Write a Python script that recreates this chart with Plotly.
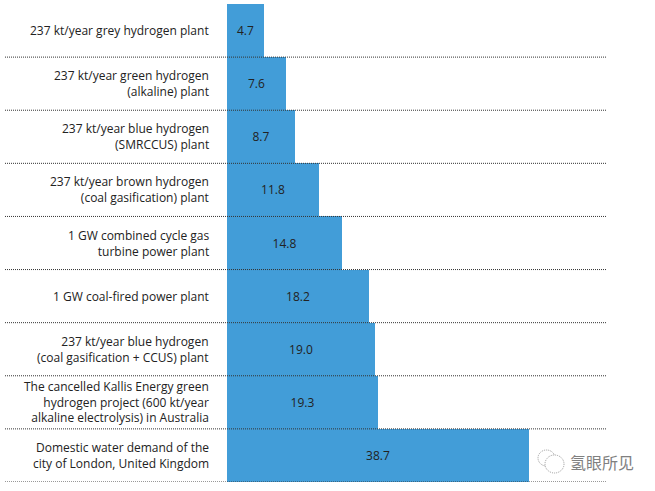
import plotly.graph_objects as go

categories = [
    "237 kt/year grey hydrogen plant",
    "237 kt/year green hydrogen<br>(alkaline) plant",
    "237 kt/year blue hydrogen<br>(SMRCCUS) plant",
    "237 kt/year brown hydrogen<br>(coal gasification) plant",
    "1 GW combined cycle gas<br>turbine power plant",
    "1 GW coal-fired power plant",
    "237 kt/year blue hydrogen<br>(coal gasification + CCUS) plant",
    "The cancelled Kallis Energy green<br>hydrogen project (600 kt/year<br>alkaline electrolysis) in Australia",
    "Domestic water demand of the<br>city of London, United Kingdom",
]
values = [4.7, 7.6, 8.7, 11.8, 14.8, 18.2, 19.0, 19.3, 38.7]
value_labels = ["4.7", "7.6", "8.7", "11.8", "14.8", "18.2", "19.0", "19.3", "38.7"]

W, H = 655, 491
left, right, top, bottom = 227, 607, 4, 482
pw, ph = right - left, bottom - top


def px(x):
    return (x - left) / pw


def py(y):
    return (bottom - y) / ph


fig = go.Figure(go.Bar(
    x=values,
    y=list(range(len(categories))),
    orientation="h",
    marker=dict(color="#429DD8", line=dict(width=0)),
    text=value_labels,
    textposition="inside",
    insidetextanchor="middle",
    textfont=dict(family="Open Sans", size=12, color="#222222"),
    hoverinfo="skip",
))

shapes = []
for i in range(len(categories)):
    yv = i + 0.5
    shapes.append(dict(
        type="line", xref="paper", yref="y",
        x0=px(5), x1=1, y0=yv, y1=yv,
        line=dict(color="#333333", width=1, dash="1px,1px"),
        layer="above",
    ))

# watermark icon (two speech bubbles)
shapes.append(dict(type="circle", xref="paper", yref="paper",
                   x0=px(538), x1=px(555), y0=py(466), y1=py(450),
                   line=dict(color="#999999", width=1, dash="1px,1px")))
shapes.append(dict(type="circle", xref="paper", yref="paper",
                   x0=px(545), x1=px(564), y0=py(473), y1=py(455),
                   fillcolor="white",
                   line=dict(color="#999999", width=1, dash="1px,1px")))

annotations = []
for i, c in enumerate(categories):
    annotations.append(dict(
        text=c, xref="paper", yref="y", x=px(211), y=i,
        xanchor="right", yanchor="middle", align="right", showarrow=False,
        font=dict(family="Open Sans", size=12, color="#222222"),
    ))
annotations.append(dict(
    text="氢眼所见", xref="paper", yref="paper",
    x=px(636), y=py(462),
    xanchor="right", yanchor="middle", showarrow=False,
    font=dict(family="Noto Sans CJK SC", size=16, color="#808080"),
))

fig.update_layout(
    width=W, height=H,
    margin=dict(l=left, r=W - right, t=top, b=H - bottom, autoexpand=False),
    paper_bgcolor="white", plot_bgcolor="white",
    bargap=0,
    showlegend=False,
    shapes=shapes,
    annotations=annotations,
    xaxis=dict(range=[0, pw / 7.8], visible=False, fixedrange=True),
    yaxis=dict(
        range=[len(categories) - 0.5, -0.5],
        showticklabels=False,
        showgrid=False, zeroline=False, showline=False,
        fixedrange=True,
    ),
)

fig.write_html("out.html", config={"displayModeBar": False},
               post_script="document.body.style.margin='0';")
